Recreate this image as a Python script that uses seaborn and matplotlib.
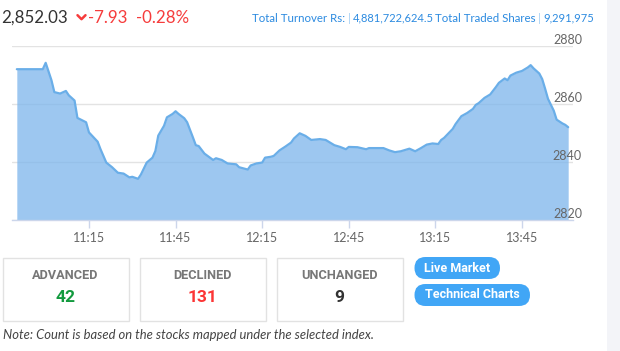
import matplotlib
matplotlib.use('agg')
import matplotlib.pyplot as plt
import matplotlib.dates as mdates
from matplotlib.patches import Rectangle, FancyBboxPatch
from matplotlib.lines import Line2D
import seaborn as sns
import pandas as pd

# intraday index values
TIMES = ['10:50', '10:59', '11:00', '11:02', '11:03', '11:05', '11:07', '11:08',
         '11:10', '11:11', '11:14', '11:15', '11:18', '11:19', '11:21', '11:23',
         '11:25', '11:27', '11:29', '11:30', '11:32', '11:33', '11:35', '11:37',
         '11:38', '11:39', '11:41', '11:42', '11:44', '11:45', '11:46', '11:48',
         '11:49', '11:51', '11:52', '11:53', '11:55', '11:58', '11:59', '12:01',
         '12:03', '12:06', '12:07', '12:10', '12:11', '12:13', '12:15', '12:16',
         '12:18', '12:19', '12:21', '12:23', '12:25', '12:26', '12:28', '12:30',
         '12:32', '12:35', '12:37', '12:40', '12:42', '12:44', '12:45', '12:48',
         '12:51', '12:52', '12:57', '12:59', '13:01', '13:03', '13:06', '13:08',
         '13:10', '13:12', '13:14', '13:16', '13:17', '13:18', '13:21', '13:22',
         '13:24', '13:26', '13:28', '13:29', '13:30', '13:32', '13:34', '13:36',
         '13:37', '13:39', '13:40', '13:41', '13:43', '13:45', '13:47', '13:48',
         '13:49', '13:51', '13:52', '13:53', '13:54', '13:56', '13:57', '13:59',
         '14:00', '14:01']
VALUES = [2872.0, 2872.0, 2874.2, 2868.2, 2864.1, 2863.6, 2864.5, 2863.0,
          2861.2, 2855.2, 2853.7, 2850.2, 2847.0, 2844.4, 2839.8, 2838.2,
          2836.3, 2836.0, 2834.7, 2834.9, 2834.2, 2835.7, 2839.8, 2841.5,
          2843.8, 2849.1, 2852.5, 2855.4, 2856.6, 2857.5, 2856.6, 2855.1,
          2853.7, 2848.5, 2845.8, 2845.5, 2842.9, 2840.7, 2841.3, 2840.7,
          2839.5, 2839.2, 2838.2, 2837.4, 2838.8, 2839.5, 2839.8, 2841.5,
          2841.8, 2842.1, 2844.0, 2845.3, 2846.7, 2848.1, 2849.9, 2849.0,
          2847.6, 2847.9, 2847.6, 2845.8, 2845.2, 2844.4, 2845.2, 2845.1,
          2844.4, 2844.8, 2844.8, 2844.0, 2843.4, 2843.7, 2844.6, 2843.7,
          2844.8, 2846.0, 2846.4, 2846.2, 2847.6, 2848.3, 2851.4, 2853.1,
          2855.8, 2856.9, 2858.3, 2859.7, 2860.3, 2862.1, 2863.3, 2865.9,
          2867.3, 2868.8, 2868.2, 2869.8, 2870.8, 2871.4, 2872.6, 2873.4,
          2872.3, 2870.5, 2868.6, 2865.3, 2861.8, 2857.7, 2854.6, 2853.3,
          2852.8, 2852.0]

X_TICKS = ['11:15', '11:45', '12:15', '12:45', '13:15', '13:45']
Y_TICKS = [2820, 2840, 2860, 2880]

LAST_VALUE = '2,852.03'
CHANGE = '-7.93'
CHANGE_PCT = '-0.28%'
TURNOVER = '4,881,722,624.5'
TRADED_SHARES = '9,291,975'
BREADTH_LABELS = ['ADVANCED', 'DECLINED', 'UNCHANGED']
BREADTH_COUNTS = ['42', '131', '9']
BREADTH_COLORS = ['#129a3e', '#fc3535', '#333333']
BUTTONS = ['Live Market', 'Technical Charts']
NOTE = 'Note: Count is based on the stocks mapped under the selected index.'

DAY = '2024-01-01 '
LINE = '#6aaee8'
FILL = '#7cb5ec'
RED = '#f63c3c'
BLUE = '#2b8ae0'
SEP = '#9fccf2'
BOLD_FONT = ['Roboto', 'DejaVu Sans']

sns.set_style('white')
plt.rcParams['font.family'] = ['Lato', 'DejaVu Sans']

df = pd.DataFrame({'time': pd.to_datetime([DAY + t for t in TIMES]), 'value': VALUES})

W, H = 620, 351
fig = plt.figure(figsize=(W / 100, H / 100), dpi=100)

# pixel-space overlay for the page furniture
bg = fig.add_axes([0, 0, 1, 1], zorder=0)
bg.set_xlim(0, W)
bg.set_ylim(H, 0)
bg.axis('off')
bg.patch.set_alpha(0)

# chart axes: x 12..573 px, y 46..220 px
ax = fig.add_axes([12 / W, (H - 220) / H, (573 - 12) / W, (220 - 46) / H], zorder=1)
ax.patch.set_alpha(0)
ax.set_axisbelow(False)
ax.grid(False)

for v in Y_TICKS:
    ax.axhline(v, color='#e3e3e3', linewidth=1, zorder=0.5)

ax.fill_between(df['time'], 2820, df['value'], color=FILL, alpha=0.75, lw=0, zorder=1)
sns.lineplot(data=df, x='time', y='value', ax=ax, color=LINE, linewidth=1.6, zorder=2)

ax.set_xlim(pd.Timestamp(DAY + '10:48:20'), pd.Timestamp(DAY + '14:02:40'))
ax.set_ylim(2820, 2880)
ax.set_xticks(pd.to_datetime([DAY + t for t in X_TICKS]))
ax.xaxis.set_major_formatter(mdates.DateFormatter('%H:%M'))
ax.set_yticks(Y_TICKS)
ax.yaxis.tick_right()
ax.set_xlabel('')
ax.set_ylabel('')

for s in ['left', 'right', 'top']:
    ax.spines[s].set_visible(False)
ax.spines['bottom'].set_color('#ccd6eb')
ax.spines['bottom'].set_linewidth(1)

ax.tick_params(axis='x', direction='out', length=6, width=1, color='#ccd6eb',
               labelcolor='#666666', labelsize=9, pad=2.5, bottom=True)
ax.tick_params(axis='y', length=0, labelcolor='#666666', labelsize=9, pad=6.5)
for lab in ax.get_yticklabels():
    lab.set_va('bottom')
    lab.set_ha('right')

# header
bg.text(1, 18, LAST_VALUE, fontsize=12.2, color='#333333', va='center', ha='left')
bg.add_line(Line2D([77.5, 81.5, 85.5], [15.2, 19.2, 15.2], color=RED, lw=1.8))
bg.text(88, 18, CHANGE, fontsize=12.2, color=RED, va='center', ha='left')
bg.text(136, 18, CHANGE_PCT, fontsize=12.2, color=RED, va='center', ha='left')

bg.text(345.5, 18, 'Total Turnover Rs:', fontsize=8.3, color=BLUE, va='center', ha='right')
bg.text(349.5, 18, '|', fontsize=8.3, color=SEP, va='center', ha='center')
bg.text(352.5, 18, TURNOVER, fontsize=8.0, color=BLUE, va='center', ha='left')
bg.text(535.5, 18, 'Total Traded Shares', fontsize=8.3, color=BLUE, va='center', ha='right')
bg.text(539.5, 18, '|', fontsize=8.3, color=SEP, va='center', ha='center')
bg.text(543, 18, TRADED_SHARES, fontsize=8.0, color=BLUE, va='center', ha='left')

# right page strip
bg.add_patch(Rectangle((607, 0), 13, H, color='#f3f4f8', lw=0))

# breadth boxes
for i, (lab, cnt, col) in enumerate(zip(BREADTH_LABELS, BREADTH_COUNTS, BREADTH_COLORS)):
    x0 = 2.5 + i * 137
    bg.add_patch(Rectangle((x0, 257.5), 126, 63, fill=False, ec='#e2e2e2', lw=1))
    bg.text(x0 + 63, 275.5, lab, fontsize=9.2, weight='bold', color='#777777',
            family=BOLD_FONT, ha='center', va='center')
    bg.text(x0 + 63, 297.5, cnt, fontsize=12.5, weight='bold', color=col,
            family=BOLD_FONT, ha='center', va='center')

# buttons
for i, (txt, w) in enumerate(zip(BUTTONS, [85.5, 115.5])):
    y0 = 257 + i * 27
    bg.add_patch(FancyBboxPatch((414.5, y0), w, 22,
                                boxstyle='round,pad=0,rounding_size=11',
                                fc='#41a6f6', ec='none'))
    bg.text(414.5 + w / 2, y0 + 11, txt, fontsize=9, weight='bold', color='white',
            family=BOLD_FONT, ha='center', va='center')

bg.text(3, 335, NOTE, fontsize=9.4, style='italic', color='#444444', va='center', ha='left')

fig.savefig('out.png', dpi=100)
